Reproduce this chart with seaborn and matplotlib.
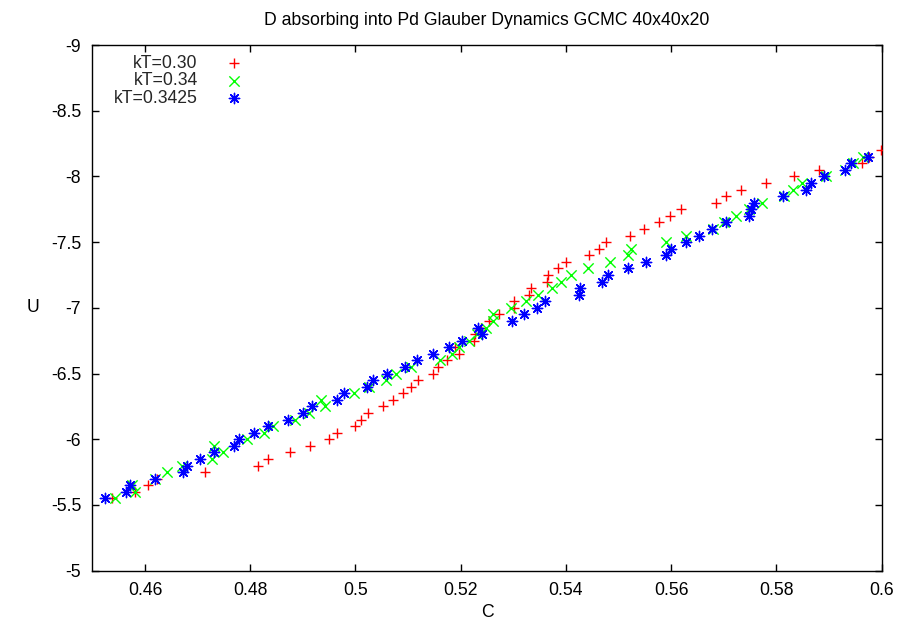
import numpy as np
import pandas as pd
import matplotlib
matplotlib.use("Agg")
import matplotlib.pyplot as plt
import seaborn as sns

# ---------------- data ----------------
title = "D absorbing into Pd Glauber Dynamics GCMC 40x40x20"
labels = ["kT=0.30", "kT=0.34", "kT=0.3425"]

u_red = [-5.55, -5.60, -5.65, -5.70, -5.75, -5.80, -5.85, -5.90, -5.95, -6.00,
         -6.05, -6.10, -6.15, -6.20, -6.25, -6.30, -6.35, -6.40, -6.45, -6.50,
         -6.55, -6.60, -6.65, -6.70, -6.75, -6.80, -6.85, -6.90, -6.95, -7.00,
         -7.05, -7.10, -7.15, -7.20, -7.25, -7.30, -7.35, -7.40, -7.45, -7.50,
         -7.55, -7.60, -7.65, -7.70, -7.75, -7.80, -7.85, -7.90, -7.95, -8.00,
         -8.05, -8.10, -8.15, -8.20]
c_red = [0.4538, 0.4582, 0.4605, 0.4622, 0.4715, 0.4815, 0.4833, 0.4876, 0.4914, 0.4950,
         0.4965, 0.5000, 0.5010, 0.5024, 0.5053, 0.5072, 0.5090, 0.5106, 0.5119, 0.5148,
         0.5156, 0.5173, 0.5197, 0.5190, 0.5226, 0.5227, 0.5238, 0.5254, 0.5273, 0.5301,
         0.5301, 0.5329, 0.5334, 0.5363, 0.5365, 0.5385, 0.5400, 0.5444, 0.5463, 0.5476,
         0.5522, 0.5549, 0.5576, 0.5598, 0.5619, 0.5685, 0.5705, 0.5733, 0.5780, 0.5833,
         0.5880, 0.5962, 0.5976, 0.5999]

u_green = [-5.55, -5.60, -5.65, -5.70, -5.75, -5.80, -5.85, -5.90, -5.95, -6.00,
           -6.05, -6.10, -6.15, -6.20, -6.25, -6.30, -6.35, -6.40, -6.45, -6.50,
           -6.55, -6.60, -6.65, -6.70, -6.75, -6.80, -6.85, -6.90, -6.95, -7.00,
           -7.05, -7.10, -7.15, -7.20, -7.25, -7.30, -7.35, -7.40, -7.45, -7.50,
           -7.55, -7.60, -7.65, -7.70, -7.75, -7.80, -7.85, -7.90, -7.95, -8.00,
           -8.05, -8.10, -8.15]
c_green = [0.4543, 0.4582, 0.4575, 0.4619, 0.4641, 0.4670, 0.4727, 0.4748, 0.4732, 0.4793,
           0.4826, 0.4844, 0.4886, 0.4912, 0.4942, 0.4934, 0.4998, 0.5026, 0.5058, 0.5077,
           0.5106, 0.5160, 0.5184, 0.5196, 0.5216, 0.5230, 0.5248, 0.5262, 0.5261, 0.5296,
           0.5324, 0.5346, 0.5373, 0.5390, 0.5410, 0.5441, 0.5483, 0.5518, 0.5523, 0.5590,
           0.5628, 0.5679, 0.5700, 0.5724, 0.5748, 0.5773, 0.5814, 0.5831, 0.5848, 0.5895,
           0.5930, 0.5946, 0.5965]

u_blue = [-5.55, -5.60, -5.65, -5.70, -5.75, -5.80, -5.85, -5.90, -5.95, -6.00,
          -6.05, -6.10, -6.15, -6.20, -6.25, -6.30, -6.35, -6.40, -6.45, -6.50,
          -6.55, -6.60, -6.65, -6.70, -6.75, -6.80, -6.85, -6.90, -6.95, -7.00,
          -7.05, -7.10, -7.15, -7.20, -7.25, -7.30, -7.35, -7.40, -7.45, -7.50,
          -7.55, -7.60, -7.65, -7.70, -7.75, -7.80, -7.85, -7.90, -7.95, -8.00,
          -8.05, -8.10, -8.15]
c_blue = [0.4525, 0.4564, 0.4572, 0.4619, 0.4672, 0.4679, 0.4705, 0.4731, 0.4769, 0.4779,
          0.4808, 0.4834, 0.4872, 0.4900, 0.4917, 0.4964, 0.4978, 0.5021, 0.5033, 0.5059,
          0.5094, 0.5116, 0.5147, 0.5178, 0.5203, 0.5240, 0.5232, 0.5298, 0.5321, 0.5344,
          0.5360, 0.5424, 0.5427, 0.5468, 0.5479, 0.5518, 0.5552, 0.5590, 0.5599, 0.5628,
          0.5653, 0.5678, 0.5705, 0.5747, 0.5752, 0.5757, 0.5812, 0.5856, 0.5866, 0.5890,
          0.5931, 0.5942, 0.5974]

xticks = [0.46, 0.48, 0.50, 0.52, 0.54, 0.56, 0.58, 0.60]
xticklabels = ["0.46", "0.48", "0.5", "0.52", "0.54", "0.56", "0.58", "0.6"]
yticks = [-9.0, -8.5, -8.0, -7.5, -7.0, -6.5, -6.0, -5.5, -5.0]
yticklabels = ["-9", "-8.5", "-8", "-7.5", "-7", "-6.5", "-6", "-5.5", "-5"]

# ---------------- style ----------------
sns.set_theme(style="white")
plt.rcParams['font.family'] = ['Liberation Sans', 'DejaVu Sans']
plt.rcParams['axes.unicode_minus'] = False
FS = 12.7

fig = plt.figure(figsize=(9.0, 6.21), dpi=100)
ax = fig.add_axes([0.1026, 0.0810, 0.8771, 0.8465])

series = [
    (c_red, u_red, "+", "#ff0000", labels[0]),
    (c_green, u_green, "x", "#00ff00", labels[1]),
    (c_blue, u_blue, (8, 2, 0), "#0000ff", labels[2]),
]
for c, u, m, col, lab in series:
    df = pd.DataFrame({"C": c, "U": u})
    sns.scatterplot(data=df, x="C", y="U", marker=m, color=col, s=55,
                    linewidth=1.0, ax=ax, label=lab, zorder=3)

ax.set_xlim(0.45, 0.60)
ax.set_ylim(-5, -9)
ax.set_xticks(xticks)
ax.set_xticklabels(xticklabels)
ax.set_yticks(yticks)
ax.set_yticklabels(yticklabels)
ax.tick_params(direction="in", length=5, width=1.0, color="black",
               labelsize=FS, labelcolor="black", top=True, right=True,
               bottom=True, left=True)
ax.tick_params(axis="x", pad=8.2)
ax.tick_params(axis="y", pad=8)
for sp in ax.spines.values():
    sp.set_visible(True)
    sp.set_color("black")
    sp.set_linewidth(1.0)

ax.set_xlabel("C", fontsize=FS, color="black", labelpad=3.5)
ax.set_ylabel("U", fontsize=FS, color="black", rotation=0, labelpad=13,
              va="center")
ax.set_title(title, fontsize=FS, color="black", pad=14.4)

leg = ax.legend(loc="upper right", bbox_to_anchor=(240.7 / 900, 1 - 54.5 / 621),
                bbox_transform=fig.transFigure, frameon=False, markerfirst=False,
                fontsize=FS, handlelength=0.75, handletextpad=1.68,
                labelspacing=0.04, borderpad=0, borderaxespad=0)

fig.savefig("out.png", dpi=100)
